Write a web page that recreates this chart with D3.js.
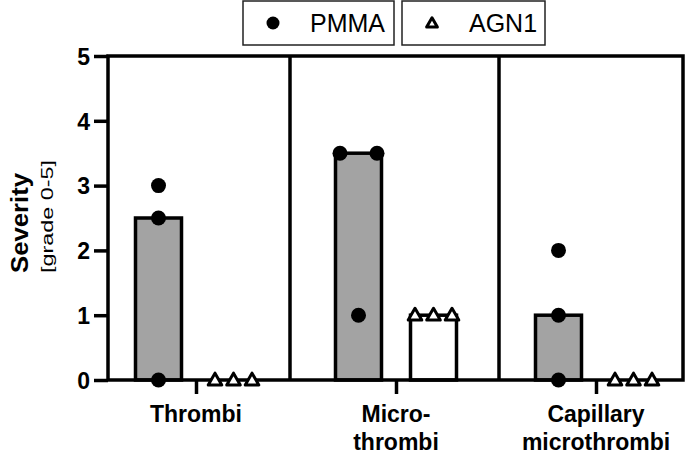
<!DOCTYPE html>
<html>
<head>
<meta charset="utf-8">
<script src="https://cdn.jsdelivr.net/npm/d3@7"></script>
<style>
  body { margin: 0; background: #fff; }
  svg { display: block; font-family: Arial, "Liberation Sans", sans-serif; }
</style>
</head>
<body>
<div class="chart"></div>
<script>
// categories (multi-line labels)
const categories = [['Thrombi'], ['Micro-', 'thrombi'], ['Capillary', 'microthrombi']];
const seriesNames = ['PMMA', 'AGN1'];
// individual grades per category, one array per series
const pmmaValues = [[3, 2.5, 0], [3.5, 3.5, 1], [2, 1, 0]];
const agn1Values = [[0, 0, 0], [1, 1, 1], [0, 0, 0]];
// bar height = median of the animals
const pmmaMedian = [2.5, 3.5, 1];
const agn1Median = [0, 1, 0];
const yTicks = [0, 1, 2, 3, 4, 5];
const panelBreaks = [0.47, 1.515];

const WIDTH = 685, HEIGHT = 458;
const MARGINS = {top: 56, right: 2, bottom: 78, left: 108};
const FONT = 'Arial, "Liberation Sans", sans-serif';

const svg = d3.select('.chart').append('svg')
  .attr('width', WIDTH)
  .attr('height', HEIGHT);

const xRange = d3.scaleLinear()
  .domain([-0.44, 2.435])
  .range([MARGINS.left, WIDTH - MARGINS.right]);
const yRange = d3.scaleLinear()
  .domain([0, 5])
  .range([HEIGHT - MARGINS.bottom, MARGINS.top]);

const offset = 0.1875;   // series offset inside a category
const barW = 0.23;       // bar width in category units
const jitter = 0.0925;   // spread of equal values
// slots used when n equal values collide
const spreadSlots = {1: [0], 2: [-1, 1], 3: [-1, 0, 1]};

const series = [
  {name: seriesNames[0], values: pmmaValues, median: pmmaMedian, fill: '#a3a3a3', shift: -offset, symbol: 'circle'},
  {name: seriesNames[1], values: agn1Values, median: agn1Median, fill: '#ffffff', shift: offset, symbol: 'triangle'}
];

// bars
series.forEach(s => {
  svg.append('g').selectAll('rect')
    .data(s.median)
    .enter()
    .append('rect')
    .attr('x', (d, i) => xRange(i + s.shift - barW / 2))
    .attr('width', xRange(barW) - xRange(0))
    .attr('y', d => yRange(d))
    .attr('height', d => yRange(0) - yRange(d))
    .attr('fill', s.fill)
    .attr('stroke', '#000')
    .attr('stroke-width', 3.5);
});

// frame and panel separators
const frame = svg.append('g').attr('stroke', '#000').attr('stroke-width', 3.5).attr('fill', 'none');
frame.append('rect')
  .attr('x', xRange.range()[0])
  .attr('y', yRange(5))
  .attr('width', xRange.range()[1] - xRange.range()[0])
  .attr('height', yRange(0) - yRange(5));
frame.selectAll('.sep')
  .data(panelBreaks)
  .enter()
  .append('line')
  .attr('x1', d => xRange(d)).attr('x2', d => xRange(d))
  .attr('y1', yRange(5)).attr('y2', yRange(0));

// y axis
const yAxis = d3.axisLeft(yRange).tickValues(yTicks).tickFormat(d3.format('d')).tickSize(14).tickPadding(4);
const yAxisg = svg.append('g')
  .attr('transform', 'translate(' + MARGINS.left + ',0)')
  .call(yAxis)
  .attr('font-family', FONT);
yAxisg.select('.domain').remove();
yAxisg.selectAll('line').attr('stroke', '#000').attr('stroke-width', 3.5);
yAxisg.selectAll('text')
  .style('font-size', '23px')
  .style('font-weight', 'bold')
  .attr('dy', '0.36em')
  .attr('fill', '#000');

// x axis ticks
const xAxis = d3.axisBottom(xRange).tickValues(d3.range(categories.length)).tickFormat('').tickSize(14);
const xAxisg = svg.append('g')
  .attr('transform', 'translate(0,' + yRange(0) + ')')
  .call(xAxis);
xAxisg.select('.domain').remove();
xAxisg.selectAll('line').attr('stroke', '#000').attr('stroke-width', 3.5);

// category labels
const catLabels = svg.append('g');
categories.forEach((lines, i) => {
  const t = catLabels.append('text')
    .attr('text-anchor', 'middle')
    .attr('x', xRange(i))
    .attr('y', yRange(0) + 42)
    .style('font-size', '23px')
    .style('font-weight', 'bold')
    .attr('fill', '#000');
  lines.forEach((l, j) => {
    t.append('tspan').attr('x', xRange(i)).attr('dy', j === 0 ? 0 : 28).text(l);
  });
});

// individual points, spread when values coincide
const triangle = d3.symbol().type(d3.symbolTriangle).size(80);
series.forEach(s => {
  const pts = [];
  s.values.forEach((vals, i) => {
    const counts = d3.rollup(vals, v => v.length, d => d);
    const seen = new Map();
    vals.forEach(v => {
      const slots = spreadSlots[counts.get(v)];
      const k = seen.get(v) || 0;
      seen.set(v, k + 1);
      pts.push({x: i + s.shift + slots[k] * jitter, y: v});
    });
  });
  const g = svg.append('g');
  if (s.symbol === 'circle') {
    g.selectAll('circle')
      .data(pts)
      .enter()
      .append('circle')
      .attr('cx', d => xRange(d.x))
      .attr('cy', d => yRange(d.y))
      .attr('r', 7.5)
      .attr('fill', '#000');
  } else {
    g.selectAll('path')
      .data(pts)
      .enter()
      .append('path')
      .attr('d', triangle)
      .attr('transform', d => 'translate(' + xRange(d.x) + ',' + (yRange(d.y) + 1) + ')')
      .attr('fill', '#fff')
      .attr('stroke', '#000')
      .attr('stroke-width', 3)
      .attr('stroke-linejoin', 'round');
  }
});

// y axis title
const yTitle = svg.append('g').attr('transform', 'translate(0,273) rotate(-90)');
yTitle.append('text')
  .attr('x', 0).attr('y', 28)
  .attr('textLength', 100)
  .attr('lengthAdjust', 'spacingAndGlyphs')
  .style('font-size', '23px')
  .style('font-weight', 'bold')
  .text('Severity');
yTitle.append('text')
  .attr('x', 0).attr('y', 53)
  .attr('textLength', 113)
  .attr('lengthAdjust', 'spacingAndGlyphs')
  .style('font-size', '17px')
  .text('[grade 0-5]');

// legend
const legendBoxes = [{x: 243, w: 151}, {x: 402, w: 143}];
const legend = svg.append('g');
series.forEach((s, i) => {
  const b = legendBoxes[i];
  legend.append('rect')
    .attr('x', b.x).attr('y', 1)
    .attr('width', b.w).attr('height', 44)
    .attr('fill', '#fff')
    .attr('stroke', '#222')
    .attr('stroke-width', 1.5);
  if (s.symbol === 'circle') {
    legend.append('circle').attr('cx', b.x + 30).attr('cy', 23).attr('r', 6.5).attr('fill', '#000');
  } else {
    legend.append('path')
      .attr('d', d3.symbol().type(d3.symbolTriangle).size(50))
      .attr('transform', 'translate(' + (b.x + 30) + ',24)')
      .attr('fill', '#fff').attr('stroke', '#000').attr('stroke-width', 3)
      .attr('stroke-linejoin', 'round');
  }
  legend.append('text')
    .attr('x', b.x + 67).attr('y', 32)
    .style('font-size', '25px')
    .attr('fill', '#000')
    .text(s.name);
});
</script>
</body>
</html>
